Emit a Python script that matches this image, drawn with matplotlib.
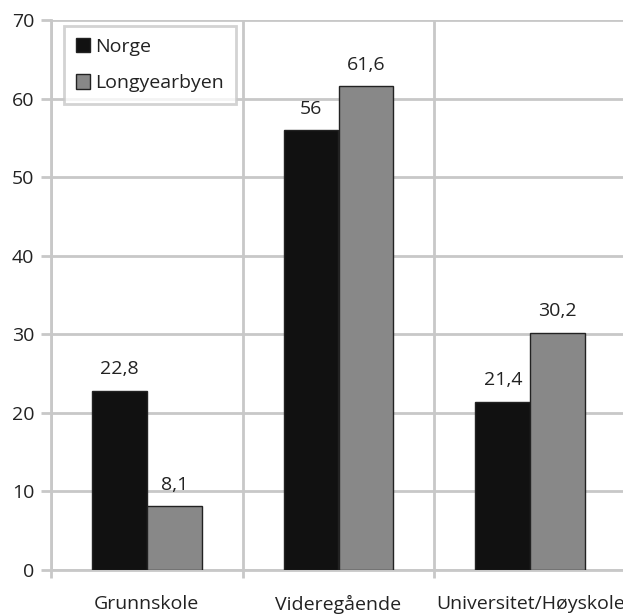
import numpy as np
import matplotlib.pyplot as plt
from matplotlib.patches import Patch

categories = ['Grunnskole', 'Videregående', 'Universitet/Høyskole']
series_names = ['Norge', 'Longyearbyen']
norge = [22.8, 56, 21.4]
longyearbyen = [8.1, 61.6, 30.2]
value_labels_norge = ['22,8', '56', '21,4']
value_labels_longyear = ['8,1', '61,6', '30,2']

plt.rcParams['font.family'] = ['Open Sans', 'DejaVu Sans']
grid_col = '#c8c8c8'
txt_col = '#222222'
fs = 14

fig = plt.figure(figsize=(6.23, 6.14), dpi=100)
ax = fig.add_axes([51 / 623, 44 / 614, 575 / 623, 550 / 614])

x = np.arange(len(categories))
w = 0.286
b1 = ax.bar(x - w / 2, norge, w, color='#111111', edgecolor='#222222', linewidth=1, zorder=3)
b2 = ax.bar(x + w / 2, longyearbyen, w, color='#888888', edgecolor='#222222', linewidth=1, zorder=3)

for bars, labs in ((b1, value_labels_norge), (b2, value_labels_longyear)):
    for r, lab in zip(bars, labs):
        ax.annotate(lab, (r.get_x() + r.get_width() / 2, r.get_height()),
                    xytext=(0, 9), textcoords='offset points',
                    ha='center', va='bottom', fontsize=fs, color=txt_col)

ax.set_xlim(-0.5, 2.5)
ax.set_ylim(0, 70)
ax.set_yticks(np.arange(0, 71, 10))
ax.set_xticks(x)
ax.set_xticklabels(categories)
ax.set_xticks(np.arange(-0.5, 2.6, 1), minor=True)
ax.tick_params(axis='x', which='major', length=0, pad=18, labelsize=fs, labelcolor=txt_col)
ax.tick_params(axis='x', which='minor', length=6, width=2, color=grid_col)
ax.tick_params(axis='y', length=7, width=2, color=grid_col, labelsize=fs, labelcolor=txt_col, pad=5)

ax.grid(axis='y', color=grid_col, linewidth=2, zorder=0)
ax.grid(axis='x', which='minor', color=grid_col, linewidth=2, zorder=0)
ax.set_axisbelow(True)
for s in ['top', 'right']:
    ax.spines[s].set_visible(False)
for s in ['left', 'bottom']:
    ax.spines[s].set_color(grid_col)
    ax.spines[s].set_linewidth(2)

handles = [Patch(facecolor='#111111', edgecolor='#222222'),
           Patch(facecolor='#888888', edgecolor='#222222')]
leg = ax.legend(handles, series_names, loc='upper left', bbox_to_anchor=(0.0226, 0.989),
                borderaxespad=0, fontsize=fs, frameon=True, fancybox=False, handlelength=0.75,
                handleheight=0.75, handletextpad=0.25, borderpad=0.6, labelspacing=0.95)
leg.get_frame().set_edgecolor(grid_col)
leg.get_frame().set_linewidth(2)
for t in leg.get_texts():
    t.set_color(txt_col)

fig.savefig('out.png', dpi=100)
